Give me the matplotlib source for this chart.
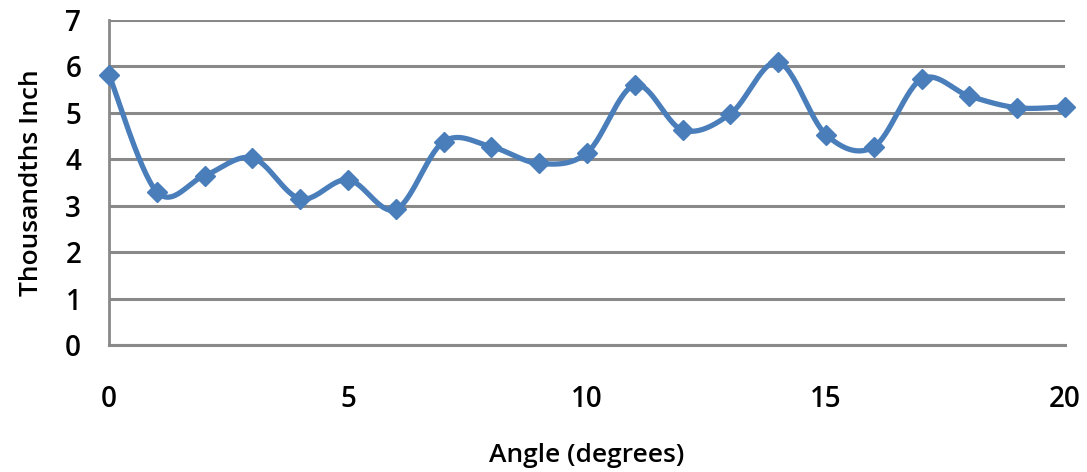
import matplotlib
matplotlib.use('Agg')
import matplotlib.pyplot as plt
import numpy as np

# angle (degrees) vs deviation (thousandths inch)
angle = [0, 1, 2, 3, 4, 5, 6, 7, 8, 9, 10, 11, 12, 13, 14, 15, 16, 17, 18, 19, 20]
thou = [5.82, 3.30, 3.65, 4.03, 3.15, 3.56, 2.92, 4.38, 4.27, 3.91, 4.14,
        5.60, 4.63, 4.98, 6.09, 4.53, 4.27, 5.73, 5.36, 5.11, 5.13]

x_ticks = [0, 5, 10, 15, 20]
y_ticks = [0, 1, 2, 3, 4, 5, 6, 7]


def smooth(x, y, n=30):
    # Excel style smoothed line: cubic bezier through points, Catmull-Rom handles
    x = np.asarray(x, float)
    y = np.asarray(y, float)
    px = np.concatenate([[x[0]], x, [x[-1]]])
    py = np.concatenate([[y[0]], y, [y[-1]]])
    xs, ys = [], []
    t = np.linspace(0, 1, n)
    for i in range(len(x) - 1):
        p0 = np.array([px[i + 1], py[i + 1]])
        p3 = np.array([px[i + 2], py[i + 2]])
        p1 = p0 + (np.array([px[i + 2], py[i + 2]]) - np.array([px[i], py[i]])) / 6
        p2 = p3 - (np.array([px[i + 3], py[i + 3]]) - np.array([px[i + 1], py[i + 1]])) / 6
        b = ((1 - t) ** 3)[:, None] * p0 + (3 * (1 - t) ** 2 * t)[:, None] * p1 \
            + (3 * (1 - t) * t ** 2)[:, None] * p2 + (t ** 3)[:, None] * p3
        xs.extend(b[:, 0])
        ys.extend(b[:, 1])
    return xs, ys


plt.rcParams['font.family'] = ['Open Sans', 'DejaVu Sans']

fig = plt.figure(figsize=(10.87, 4.72), dpi=100)
ax = fig.add_axes([0.1003, 0.269, 0.8795, 0.6886])

blue = '#4a7ebb'
sx, sy = smooth(angle, thou)
ax.plot(sx, sy, color=blue, lw=3.8, solid_capstyle='round', zorder=3)
ax.plot(angle, thou, linestyle='none', marker='D', markersize=10,
        color=blue, zorder=4, clip_on=False)

ax.set_xlim(0, 20)
ax.set_ylim(0, 7)
ax.set_xticks(x_ticks)
ax.set_yticks(y_ticks)
ax.grid(axis='y', color='#898989', lw=2.2)
ax.set_axisbelow(True)
for s in ['top', 'right']:
    ax.spines[s].set_visible(False)
ax.spines['left'].set_color('#898989')
ax.spines['left'].set_linewidth(2)
ax.spines['bottom'].set_color('#898989')
ax.spines['bottom'].set_linewidth(2.2)
ax.tick_params(length=0, labelsize=20)
ax.tick_params(axis='x', pad=29)
ax.tick_params(axis='y', pad=20)
for lab in ax.get_xticklabels() + ax.get_yticklabels():
    lab.set_fontweight('semibold')

ax.set_xlabel('Angle (degrees)', fontsize=19, fontweight='semibold', labelpad=21)
ax.set_ylabel('Thousandths Inch', fontsize=19, fontweight='semibold', labelpad=15)

fig.savefig('out.png', dpi=100)
